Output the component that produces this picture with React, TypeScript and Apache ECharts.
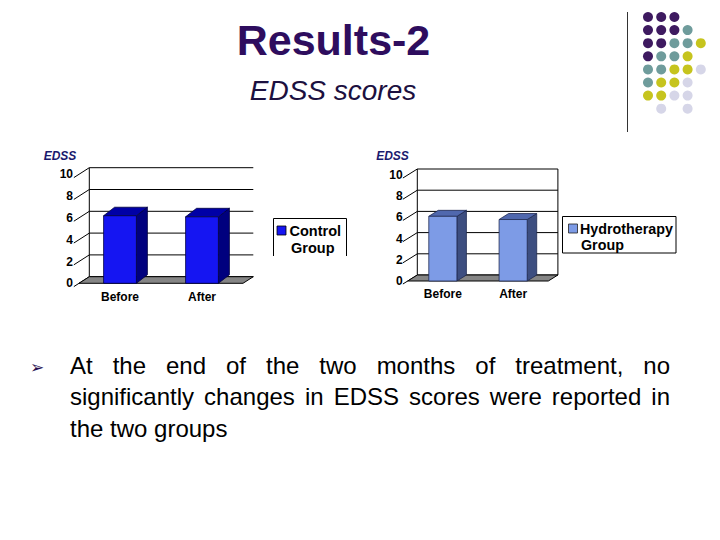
import React, { useEffect, useRef } from "react";
import * as echarts from "echarts";

const CATEGORIES = ["Before", "After"];
const CONTROL_VALUES = [6.2, 6.1];
const HYDRO_VALUES = [6.1, 5.8];
const Y_TICKS = [0, 2, 4, 6, 8, 10];
const Y_MIN = 0;
const Y_MAX = 10;
const Y_INTERVAL = 2;
const LEGEND_LINES_CONTROL = ["Control", "Group"];
const LEGEND_LINES_HYDRO = ["Hydrotherapy", "Group"];
const P_LABEL = "p=ns";
const AXIS_TITLE = "EDSS";
const TITLE = "Results-2";
const SUBTITLE = "EDSS scores";
const BULLET_LINES = [
  "At the end of the two months of treatment, no",
  "significantly changes in EDSS scores were reported in",
  "the two groups",
];
const DOT_ROWS = ["PPP..", "PPPT.", "PPTTY", "PTTY.", "TTYYL", "TYYL.", "YYLL.", ".L.L."];
const DOT_COLORS: Record<string, string> = {
  P: "#3e1a60",
  T: "#6f9c9c",
  Y: "#c6c41e",
  L: "#d6d6e8",
};

const FONT = "'Liberation Sans', Arial, sans-serif";

type Panel = {
  grid: { left: number; top: number; width: number; height: number };
  wall: [number, number];
  depth: [number, number];
  front: string;
  side: string;
  top: string;
  edge: string;
  rightBorder: boolean;
};

const PANELS: Panel[] = [
  {
    grid: { left: 79, top: 174.3, width: 164, height: 109 },
    wall: [10.3, -6.6],
    depth: [11, -8.5],
    front: "#1515f2",
    side: "#00007e",
    top: "#0000a6",
    edge: "#000040",
    rightBorder: false,
  },
  {
    grid: { left: 407.7, top: 175, width: 140.6, height: 106 },
    wall: [9.6, -6],
    depth: [9.5, -6],
    front: "#7d9be6",
    side: "#3d4e80",
    top: "#5068ae",
    edge: "#202a50",
    rightBorder: true,
  },
];

function measure(text: string, font: string): number {
  const c = document.createElement("canvas");
  const ctx = c.getContext("2d");
  if (!ctx) return text.length * 12;
  ctx.font = font;
  return ctx.measureText(text).width;
}

function justifiedWords(line: string, x0: number, width: number, y: number, justify: boolean) {
  const font = `24px ${FONT}`;
  const words = line.split(" ");
  const widths = words.map((w) => measure(w, font));
  const total = widths.reduce((a, b) => a + b, 0);
  const gap = justify && words.length > 1 ? (width - total) / (words.length - 1) : measure(" ", font);
  const out: any[] = [];
  let x = x0;
  words.forEach((w, i) => {
    out.push({
      type: "text",
      x,
      y,
      style: {
        text: w,
        fontSize: 24,
        fontFamily: FONT,
        fill: "#000",
        textAlign: "left",
        textVerticalAlign: "middle",
      },
    });
    x += widths[i] + gap;
  });
  return out;
}

function frameRenderer(panel: Panel) {
  return (params: any, api: any) => {
    const cs = params.coordSys;
    const [dx, dy] = panel.wall;
    const x0 = cs.x;
    const x1 = cs.x + cs.width;
    const yb = cs.y + cs.height;
    const children: any[] = [];
    children.push({
      type: "rect",
      shape: { x: x0 + dx, y: cs.y + dy, width: cs.width, height: cs.height },
      style: { fill: "#ffffff" },
    });
    Y_TICKS.forEach((v) => {
      const y = api.coord([0, v])[1];
      children.push({
        type: "line",
        shape: { x1: x0 + dx, y1: y + dy, x2: x1 + dx, y2: y + dy },
        style: { stroke: "#000", lineWidth: 1 },
      });
      children.push({
        type: "line",
        shape: { x1: x0 - 0.5 * dx, y1: y - 0.5 * dy, x2: x0 + dx, y2: y + dy },
        style: { stroke: "#000", lineWidth: 1 },
      });
    });
    children.push({
      type: "line",
      shape: { x1: x0 + dx, y1: cs.y + dy, x2: x0 + dx, y2: yb + dy },
      style: { stroke: "#000", lineWidth: 1 },
    });
    if (panel.rightBorder) {
      children.push({
        type: "line",
        shape: { x1: x1 + dx, y1: cs.y + dy, x2: x1 + dx, y2: yb + dy },
        style: { stroke: "#000", lineWidth: 1 },
      });
    }
    children.push({
      type: "polygon",
      shape: {
        points: [
          [x0, yb],
          [x1, yb],
          [x1 + dx, yb + dy],
          [x0 + dx, yb + dy],
        ],
      },
      style: { fill: "#858585", stroke: "#000", lineWidth: 1 },
    });
    return { type: "group", children };
  };
}

function barRenderer(panel: Panel) {
  return (params: any, api: any) => {
    const i = api.value(0);
    const v = api.value(1);
    const base = api.coord([i, 0]);
    const top = api.coord([i, v]);
    const bw = api.size([1, 0])[0] * 0.4;
    const xl = base[0] - bw / 2;
    const xr = base[0] + bw / 2;
    const yb = base[1];
    const yt = top[1];
    const [ddx, ddy] = panel.depth;
    const stroke = { stroke: panel.edge, lineWidth: 0.8 };
    return {
      type: "group",
      children: [
        {
          type: "polygon",
          shape: { points: [[xr, yt], [xr + ddx, yt + ddy], [xr + ddx, yb + ddy], [xr, yb]] },
          style: { fill: panel.side, ...stroke },
        },
        {
          type: "polygon",
          shape: { points: [[xl, yt], [xr, yt], [xr + ddx, yt + ddy], [xl + ddx, yt + ddy]] },
          style: { fill: panel.top, ...stroke },
        },
        {
          type: "rect",
          shape: { x: xl, y: yt, width: bw, height: yb - yt },
          style: { fill: panel.front, ...stroke },
        },
      ],
    };
  };
}

function text(x: number, y: number, t: string, extra: any) {
  return {
    type: "text",
    x,
    y,
    style: {
      text: t,
      fontFamily: FONT,
      fill: "#000",
      textAlign: "left",
      textVerticalAlign: "middle",
      ...extra,
    },
  };
}

export default function App() {
  const ref = useRef<HTMLDivElement>(null);
  useEffect(() => {
    if (!ref.current) return;
    const chart = echarts.init(ref.current, undefined, { renderer: "svg" });

    const graphics: any[] = [];
    graphics.push(
      text(333.5, 40, TITLE, { fontSize: 43, fontWeight: "bold", fill: "#2e0d5e", textAlign: "center" })
    );
    graphics.push(
      text(333, 90, SUBTITLE, { fontSize: 28, fontStyle: "italic", fill: "#1c1040", textAlign: "center" })
    );
    // decoration
    graphics.push({
      type: "line",
      shape: { x1: 627.5, y1: 12, x2: 627.5, y2: 132 },
      style: { stroke: "#333", lineWidth: 1 },
    });
    DOT_ROWS.forEach((row, r) => {
      row.split("").forEach((ch, c) => {
        if (ch === ".") return;
        graphics.push({
          type: "circle",
          shape: { cx: 648 + c * 13.2, cy: 17 + r * 13.1, r: 5 },
          style: { fill: DOT_COLORS[ch] },
        });
      });
    });
    // panel titles and p labels
    graphics.push(text(60, 156, AXIS_TITLE, { fontSize: 12, fontWeight: "bold", fontStyle: "italic", fill: "#1a1a6e", textAlign: "center" }));
    graphics.push(text(392.5, 156, AXIS_TITLE, { fontSize: 12, fontWeight: "bold", fontStyle: "italic", fill: "#1a1a6e", textAlign: "center" }));
    graphics.push(text(168, 179.5, P_LABEL, { fontSize: 12, fontStyle: "italic", textAlign: "center" }));
    graphics.push(text(486, 179, P_LABEL, { fontSize: 12, fontStyle: "italic", textAlign: "center" }));
    // legend boxes
    graphics.push({
      type: "polyline",
      shape: { points: [[273.5, 256], [273.5, 218.5], [346.5, 218.5], [346.5, 256]] },
      style: { stroke: "#000", lineWidth: 1, fill: "none" },
    });
    graphics.push({
      type: "rect",
      shape: { x: 277, y: 226, width: 9, height: 9 },
      style: { fill: PANELS[0].front, stroke: "#000", lineWidth: 0.8 },
    });
    graphics.push(text(289.5, 231, LEGEND_LINES_CONTROL[0], { fontSize: 14.5, fontWeight: "bold" }));
    graphics.push(text(291, 247.5, LEGEND_LINES_CONTROL[1], { fontSize: 14.5, fontWeight: "bold" }));
    graphics.push({
      type: "rect",
      shape: { x: 562.5, y: 216.5, width: 113.5, height: 36.5 },
      style: { stroke: "#000", lineWidth: 1, fill: "#fff" },
    });
    graphics.push({
      type: "rect",
      shape: { x: 568.5, y: 224, width: 9, height: 9 },
      style: { fill: PANELS[1].front, stroke: "#222", lineWidth: 0.8 },
    });
    graphics.push(text(580, 228.5, LEGEND_LINES_HYDRO[0], { fontSize: 14.3, fontWeight: "bold" }));
    graphics.push(text(581, 245, LEGEND_LINES_HYDRO[1], { fontSize: 14.3, fontWeight: "bold" }));
    // bullet
    graphics.push(text(37, 366.5, "\u27A2", { fontSize: 17, fontFamily: "DejaVu Sans", fill: "#2a1050", textAlign: "center" }));
    const lineYs = [365, 396.5, 428];
    BULLET_LINES.forEach((line, i) => {
      graphics.push(...justifiedWords(line, 70, 600, lineYs[i], i < BULLET_LINES.length - 1));
    });

    const grids = PANELS.map((p) => ({ ...p.grid, containLabel: false }));
    const xAxes = PANELS.map((_, k) => ({
      type: "category",
      gridIndex: k,
      data: CATEGORIES,
      axisLine: { show: false },
      axisTick: { show: false },
      axisLabel: { fontSize: 12, fontWeight: "bold", color: "#000", fontFamily: FONT, margin: k === 0 ? 8 : 7 },
    }));
    const yAxes = PANELS.map((_, k) => ({
      type: "value",
      gridIndex: k,
      min: Y_MIN,
      max: Y_MAX,
      interval: Y_INTERVAL,
      axisLine: { show: false },
      axisTick: { show: false },
      splitLine: { show: false },
      axisLabel: { fontSize: 12, fontWeight: "bold", color: "#000", fontFamily: FONT, margin: k === 0 ? 6 : 5 },
    }));
    const valueSets = [CONTROL_VALUES, HYDRO_VALUES];
    const series: any[] = [];
    PANELS.forEach((p, k) => {
      series.push({
        type: "custom",
        name: "frame" + k,
        xAxisIndex: k,
        yAxisIndex: k,
        z: 1,
        clip: false,
        silent: true,
        data: [[0, 0]],
        renderItem: frameRenderer(p),
      });
      series.push({
        type: "custom",
        name: k === 0 ? "Control Group" : "Hydrotherapy Group",
        xAxisIndex: k,
        yAxisIndex: k,
        z: 2,
        clip: false,
        data: valueSets[k].map((v, i) => [i, v]),
        encode: { x: 0, y: 1 },
        renderItem: barRenderer(p),
      });
    });

    chart.setOption({
      animation: false,
      backgroundColor: "#ffffff",
      grid: grids,
      xAxis: xAxes,
      yAxis: yAxes,
      series,
      graphic: { elements: graphics },
    });
    return () => chart.dispose();
  }, []);
  return (
    <div
      ref={ref}
      style={{ position: "fixed", left: 0, top: 0, width: 720, height: 540 }}
    />
  );
}
